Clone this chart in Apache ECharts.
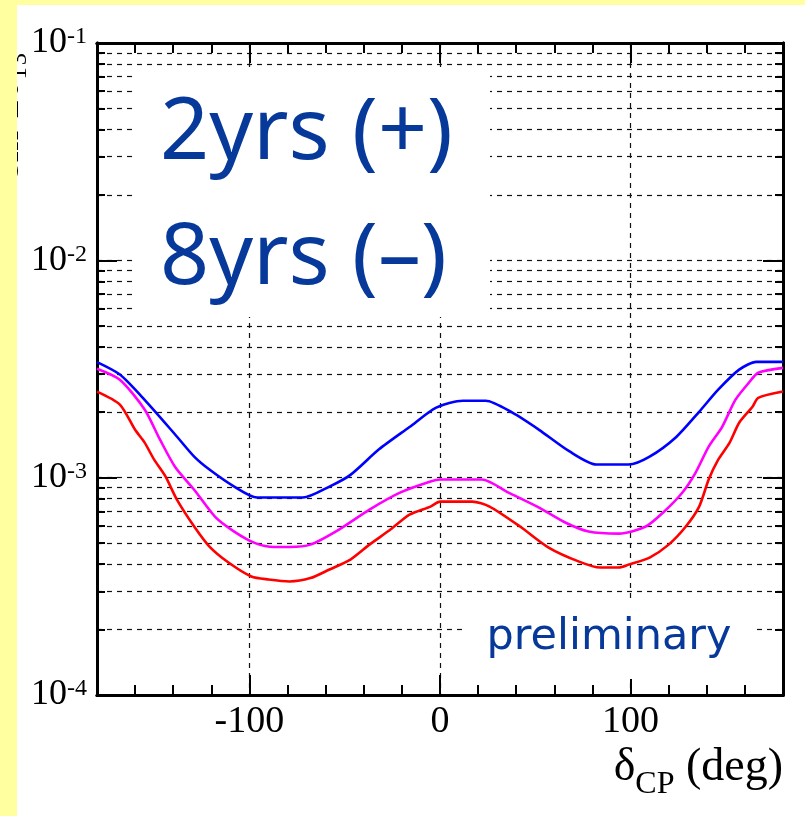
<!DOCTYPE html>
<html><head><meta charset="utf-8">
<script src="https://cdn.jsdelivr.net/npm/echarts@6/dist/echarts.min.js"></script>
<style>html,body{margin:0;padding:0;background:#fff;overflow:hidden}#c{width:805px;height:816px}</style>
</head><body><div id="c"></div>
<script>
// ---- data ----
const blueX = [-180,-168,-155,-139,-129,-121,-108,-96,-72,-58,-47,-32,-16,-2,12,24,38,52,68,82,99,110,124,136,146,157,166,180];
const blueY = [3.4e-3,2.98e-3,2.28e-3,1.58e-3,1.25e-3,1.09e-3,9.1e-4,8.1e-4,8.1e-4,9.1e-4,1.03e-3,1.35e-3,1.71e-3,2.10e-3,2.26e-3,2.26e-3,1.99e-3,1.66e-3,1.32e-3,1.15e-3,1.15e-3,1.25e-3,1.54e-3,2.01e-3,2.54e-3,3.14e-3,3.41e-3,3.41e-3];
const magX = [-180,-168,-155,-147,-139,-129,-118,-108,-97,-87,-79,-68,-53,-37,-21,-5,0,22,36,52,66,78,94,108,117,127,134,141,148,155,162,167,180];
const magY = [3.17e-3,2.82e-3,2.06e-3,1.5e-3,1.12e-3,8.8e-4,6.6e-4,5.65e-4,5.0e-4,4.8e-4,4.8e-4,4.92e-4,5.77e-4,7.13e-4,8.53e-4,9.6e-4,9.8e-4,9.8e-4,8.53e-4,7.28e-4,6.2e-4,5.65e-4,5.53e-4,5.96e-4,6.9e-4,8.5e-4,1.05e-3,1.39e-3,1.71e-3,2.28e-3,2.73e-3,3.04e-3,3.2e-3];
const redX = [-180,-168,-160,-155,-150,-144,-138,-129,-121,-111,-99,-90,-79,-68,-58,-47,-37,-26,-16,-5,0,17,26,42,57,73,84,94,99,110,120,129,136,141,146,152,157,164,167,180];
const redY = [2.49e-3,2.17e-3,1.66e-3,1.45e-3,1.21e-3,1.01e-3,7.9e-4,5.96e-4,4.82e-4,4.07e-4,3.51e-4,3.40e-4,3.33e-4,3.45e-4,3.78e-4,4.2e-4,4.92e-4,5.77e-4,6.76e-4,7.36e-4,7.76e-4,7.76e-4,7.36e-4,5.96e-4,4.77e-4,4.11e-4,3.86e-4,3.86e-4,3.98e-4,4.29e-4,4.92e-4,5.96e-4,7.36e-4,9.8e-4,1.21e-3,1.45e-3,1.79e-3,2.12e-3,2.33e-3,2.49e-3];

const xMajor = [-100, 0, 100];
const xMinor = [-160,-140,-120,-100,-80,-60,-40,-20,0,20,40,60,80,100,120,140,160];
const yMajor = [1e-4, 1e-3, 1e-2, 1e-1];
const yMinor = [2e-4,3e-4,4e-4,5e-4,6e-4,7e-4,8e-4,9e-4,2e-3,3e-3,4e-3,5e-3,6e-3,7e-3,8e-3,9e-3,2e-2,3e-2,4e-2,5e-2,6e-2,7e-2,8e-2,9e-2];
const xName = ['δ', 'CP', ' (deg)'];
const yName = 'sin²2θ₁₃';
const bigText = ['2yrs (+)', '8yrs (–)'];
const noteText = 'preliminary';

const pair = (xs, ys) => xs.map((x, i) => [x, ys[i]]);
const serif = 'Liberation Serif';
const dash = {color: '#111', type: [5, 5], width: 1.2};

function xAx(pos, ticks, len, showLabel, showSplit, extra) {
  return Object.assign({
    type: 'value', min: -180, max: 180, position: pos,
    axisLine: {show: true, onZero: false, lineStyle: {color: '#000', width: 3}},
    axisTick: {show: true, inside: true, length: len, customValues: ticks, lineStyle: {color: '#000', width: 2}},
    axisLabel: {show: showLabel, customValues: ticks, margin: 8, color: '#000', fontFamily: serif, fontSize: 38},
    splitLine: {show: showSplit, lineStyle: dash}
  }, extra || {});
}
function yAx(pos, ticks, len, showLabel, showSplit) {
  return {
    type: 'log', logBase: 10, min: 1e-4, max: 1e-1, position: pos,
    axisLine: {show: true, onZero: false, lineStyle: {color: '#000', width: 3}},
    axisTick: {show: true, inside: true, length: len, customValues: ticks, lineStyle: {color: '#000', width: 2}},
    axisLabel: {
      show: showLabel, customValues: ticks, margin: 10,
      formatter: v => '{b|10}{s|' + Math.round(Math.log10(v)) + '}',
      rich: {
        b: {fontFamily: serif, fontSize: 36, lineHeight: 36, color: '#000', verticalAlign: 'bottom'},
        s: {fontFamily: serif, fontSize: 24, lineHeight: 24, color: '#000', verticalAlign: 'top'}
      }
    },
    splitLine: {show: showSplit, lineStyle: dash}
  };
}

const lineSeries = (name, xs, ys, color) => ({
  type: 'line', name, data: pair(xs, ys), showSymbol: false, symbol: 'none',
  smooth: 0.25, lineStyle: {color, width: 2.6}, z: 3
});

const chart = echarts.init(document.getElementById('c'), null, {renderer: 'canvas'});
chart.setOption({
  animation: false,
  backgroundColor: '#fff',
  grid: {left: 97, right: 22, top: 43, bottom: 121, containLabel: false},
  xAxis: [
    xAx('bottom', xMajor, 20, true, true, {
      name: '{d|' + xName[0] + '}{c|' + xName[1] + '}{d|' + xName[2] + '}',
      nameLocation: 'end', nameGap: 0,
      nameTextStyle: {
        align: 'right', verticalAlign: 'top', padding: [50, 0, 0, 0],
        rich: {
          d: {fontFamily: serif, fontSize: 46, lineHeight: 46, color: '#000', verticalAlign: 'top'},
          c: {fontFamily: serif, fontSize: 32, lineHeight: 32, color: '#000', padding: [24, 0, 0, 0], verticalAlign: 'top'}
        }
      }
    }),
    xAx('bottom', xMinor, 10, false, false),
    xAx('top', xMajor, 20, false, false),
    xAx('top', xMinor, 10, false, false)
  ],
  yAxis: [
    yAx('left', yMajor, 20, true, true),
    yAx('left', yMinor, 8, false, true),
    yAx('right', yMajor, 20, false, false),
    yAx('right', yMinor, 8, false, false)
  ],
  series: [
    lineSeries('blue', blueX, blueY, '#0000ff'),
    lineSeries('magenta', magX, magY, '#ff00ff'),
    lineSeries('red', redX, redY, '#ff0000')
  ],
  graphic: [
    {type: 'rect', shape: {x: 135, y: 67, width: 355, height: 250}, style: {fill: '#fff'}, z: 10, silent: true},
    {type: 'text', x: 160, y: 91, style: {text: bigText[0], font: '86px "Noto Sans"', fill: '#06399a', align: 'left', verticalAlign: 'top'}, z: 11},
    {type: 'text', x: 160, y: 216, style: {text: bigText[1], font: '86px "Noto Sans"', fill: '#06399a', align: 'left', verticalAlign: 'top'}, z: 11},
    {type: 'rect', shape: {x: 465, y: 600, width: 290, height: 79}, style: {fill: '#fff'}, z: 10, silent: true},
    {type: 'text', x: 609, y: 616, style: {text: noteText, font: '43px "DejaVu Sans"', fill: '#06399a', align: 'center', verticalAlign: 'top'}, z: 11},
    {type: 'text', x: 27, y: 52, rotation: Math.PI / 2, style: {text: yName, font: '40px "Liberation Serif"', fill: '#000', align: 'right', verticalAlign: 'bottom'}, z: 50},
    {type: 'rect', shape: {x: 0, y: 0, width: 17, height: 816}, style: {fill: '#ffffa0'}, z: 100, silent: true},
    {type: 'rect', shape: {x: 0, y: 0, width: 805, height: 5}, style: {fill: '#ffffa0'}, z: 100, silent: true}
  ]
});
</script>
</body></html>
